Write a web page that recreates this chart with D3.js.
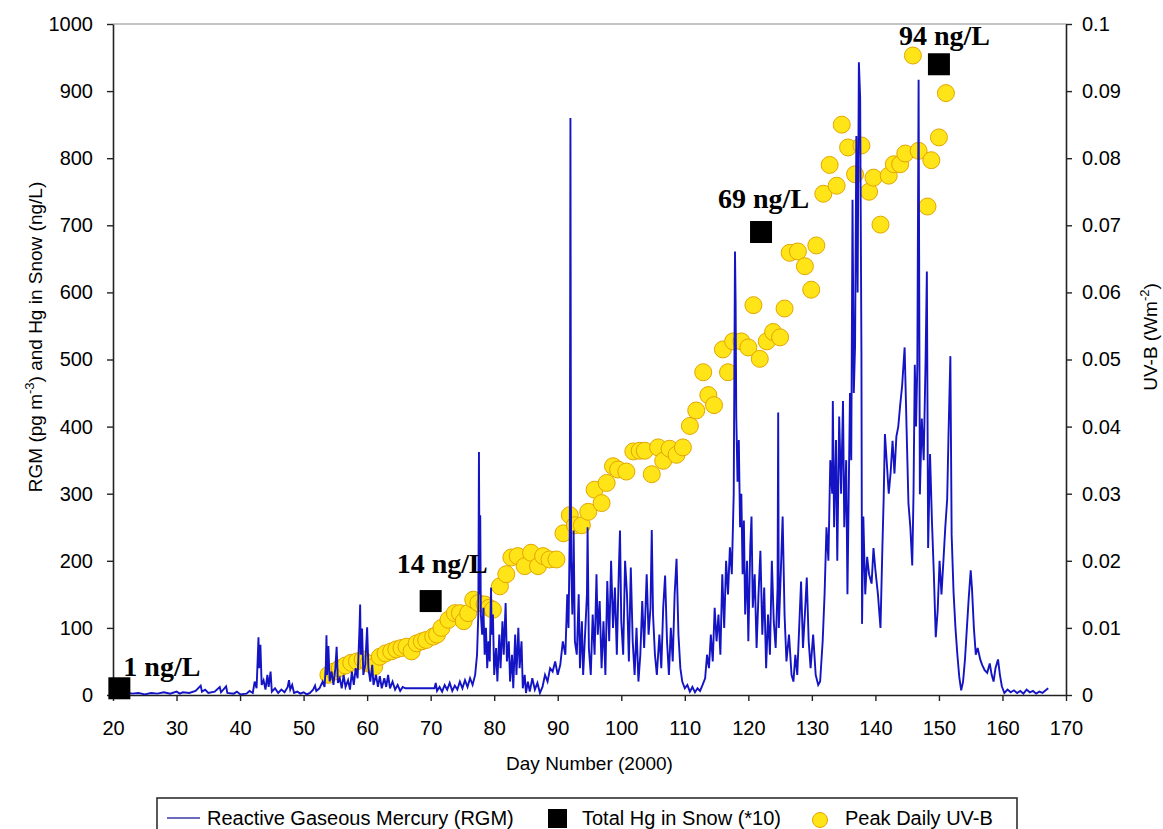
<!DOCTYPE html>
<html>
<head>
<meta charset="utf-8">
<script src="https://cdn.jsdelivr.net/npm/d3@7"></script>
<style>
    body { margin: 0; background: #fff; }
    svg { display: block; }
    text { fill: #000; }
</style>
</head>
<body>
<div class="container"></div>
<script>
// tick values
const dayTicks = [20, 30, 40, 50, 60, 70, 80, 90, 100, 110, 120, 130, 140, 150, 160, 170];
const leftTicks = [0, 100, 200, 300, 400, 500, 600, 700, 800, 900, 1000];
const rightTicks = [0, 0.01, 0.02, 0.03, 0.04, 0.05, 0.06, 0.07, 0.08, 0.09, 0.1];
const rightTickLabels = ['0', '0.01', '0.02', '0.03', '0.04', '0.05', '0.06', '0.07', '0.08', '0.09', '0.1'];

// Reactive Gaseous Mercury, [day, pg m-3]
const rgmData = [
    [20, 3], [21, 2], [22, 4], [23, 2], [24, 3], [25, 1], [26, 3], [27, 2], [28, 4], [29, 2], [30, 5], [30.5, 2],
    [31, 4], [32, 3], [33, 6], [33.8, 14], [34, 5], [34.5, 8], [35, 3], [36, 5], [36.8, 12], [37, 4], [37.8, 13],
    [38, 3], [39, 2], [39.5, 5], [40, 1], [41, 2], [41.5, 6], [42, 3],
    [42.3, 20], [42.6, 10], [42.8, 60], [42.9, 86], [43.0, 40], [43.2, 75], [43.4, 15], [43.7, 22], [44, 8],
    [44.3, 30], [44.5, 12], [44.8, 35], [45, 5], [45.5, 10], [46, 3], [46.5, 8], [47, 4], [47.5, 12], [47.7, 22],
    [47.9, 8], [48.2, 15], [48.5, 3], [49, 5], [49.5, 2], [50, 4], [50.5, 1], [51, 3], [51.5, 8], [51.8, 14],
    [52, 6], [52.5, 10], [53, 20], [53.3, 12],
    [53.5, 45], [53.6, 89], [53.7, 30], [53.9, 73], [54.1, 20], [54.4, 35], [54.7, 15], [55, 40], [55.2, 72],
    [55.4, 18], [55.7, 25], [56, 10], [56.3, 30], [56.6, 12], [57, 22], [57.3, 8], [57.6, 35], [57.9, 15],
    [58.2, 40], [58.5, 25], [58.8, 100], [58.9, 135], [59.0, 60], [59.2, 99], [59.4, 30], [59.7, 45], [60, 101],
    [60.2, 40], [60.5, 20], [60.8, 45], [61, 15], [61.4, 30], [61.7, 12], [62, 28], [62.3, 10], [62.7, 25],
    [63, 12], [63.3, 30], [63.6, 10], [64, 20], [64.4, 8], [64.8, 15], [65.2, 6],
    [65.6, 12], [66, 10], [70.6, 10], [70.8, 18], [71, 6], [71.4, 12], [71.8, 5], [72.2, 15], [72.6, 8], [73, 18],
    [73.4, 6], [73.8, 14], [74.2, 8], [74.6, 20], [75, 10], [75.4, 22], [75.8, 12], [76.2, 25], [76.6, 15],
    [77, 30], [77.3, 60],
    [77.5, 120], [77.6, 362], [77.7, 150], [77.8, 268], [77.9, 120], [78.1, 90], [78.3, 130], [78.5, 60],
    [78.7, 100], [78.9, 40], [79.1, 80], [79.3, 50], [79.5, 160], [79.6, 90], [79.8, 120], [80, 30], [80.3, 70],
    [80.5, 20], [80.8, 90], [81, 40], [81.3, 110], [81.5, 60], [81.8, 137], [82, 50], [82.3, 80], [82.5, 20],
    [82.8, 60], [83, 10], [83.3, 90], [83.5, 30], [83.8, 100], [84, 40], [84.3, 80], [84.5, 10], [84.8, 30],
    [85, 3], [85.3, 20], [85.6, 5], [86, 25], [86.4, 8], [86.8, 18], [87.2, 3], [87.6, 12], [88, 30], [88.4, 20],
    [88.8, 40], [89.2, 35], [89.6, 50], [90, 30], [90.4, 45], [90.8, 80], [91.2, 60], [91.5, 150], [91.7, 100],
    [91.9, 250], [92, 860], [92.1, 200], [92.3, 120], [92.5, 245], [92.7, 80],
    [93, 60], [93.3, 150], [93.5, 40], [93.8, 110], [94, 30], [94.3, 90], [94.6, 150], [94.7, 250], [94.9, 70],
    [95.2, 30], [95.5, 120], [95.8, 60], [96.1, 180], [96.3, 90], [96.6, 140], [96.9, 40], [97.2, 110], [97.5, 30],
    [97.8, 170], [98.1, 80], [98.4, 200], [98.7, 100], [99, 160], [99.3, 60], [99.6, 180], [99.8, 245], [100, 110],
    [100.3, 60], [100.6, 200], [100.9, 150], [101.2, 50], [101.5, 190], [101.8, 80], [102.1, 30], [102.4, 100],
    [102.7, 20],
    [103, 60], [103.3, 140], [103.6, 70], [104, 180], [104.3, 90], [104.6, 130], [104.8, 246], [105, 120],
    [105.3, 60], [105.6, 30], [106, 90], [106.3, 40], [106.6, 130], [106.9, 178], [107.2, 80], [107.5, 30],
    [107.8, 100], [108.1, 50], [108.4, 150], [108.7, 203], [109, 90], [109.3, 40], [109.6, 20], [110, 10],
    [110.4, 15], [110.8, 5], [111.2, 12], [111.6, 4], [112, 10], [112.4, 6], [112.8, 15], [113.2, 25],
    [113.5, 60], [113.8, 40], [114.1, 90], [114.4, 50], [114.7, 130], [115, 80], [115.3, 120], [115.6, 60],
    [115.9, 180], [116.2, 100], [116.5, 200], [116.8, 150], [117.1, 220], [117.4, 180], [117.7, 300], [117.9, 661],
    [118, 584], [118.1, 415], [118.3, 318], [118.5, 380], [118.7, 250], [118.9, 300], [119.1, 180], [119.3, 260],
    [119.5, 120], [119.8, 200], [120, 80], [120.3, 220], [120.5, 266], [120.7, 130], [121, 180], [121.3, 70],
    [121.6, 150], [121.9, 215], [122.2, 90], [122.5, 160], [122.8, 40], [123.1, 120], [123.4, 60], [123.7, 200],
    [124, 110], [124.3, 70], [124.6, 160], [124.7, 421], [124.8, 100], [125.1, 180], [125.4, 266], [125.7, 120],
    [126, 50], [126.4, 90], [126.8, 30], [127.1, 20], [127.4, 60], [127.7, 30], [128, 100], [128.3, 169],
    [128.6, 70], [128.9, 120], [129.2, 175], [129.5, 80], [129.8, 40], [130.2, 90], [130.6, 30], [131, 15],
    [131.3, 20], [131.7, 80], [132, 150], [132.3, 250], [132.6, 200], [132.9, 350], [133.2, 300], [133.3, 438],
    [133.5, 250], [133.8, 380], [134, 200], [134.3, 415], [134.6, 300], [134.9, 438], [135.1, 250], [135.4, 350],
    [135.6, 150], [135.8, 300], [136, 450], [136.2, 350], [136.4, 738], [136.6, 450], [136.8, 520], [137, 833],
    [137.2, 600], [137.4, 943], [137.6, 890], [137.8, 512], [137.9, 106], [138.1, 266], [138.4, 150], [138.7, 206],
    [139, 180], [139.4, 166], [139.7, 219], [140, 186], [140.4, 150], [140.8, 100], [141.1, 220], [141.3, 292],
    [141.5, 389], [141.8, 345], [142.1, 300], [142.4, 332], [142.7, 379], [143, 330], [143.3, 385], [143.6, 400],
    [143.9, 432], [144.2, 460], [144.6, 518], [144.9, 400], [145.2, 286], [145.5, 250], [145.8, 193], [146, 300],
    [146.2, 492], [146.4, 400], [146.6, 492], [146.8, 917], [146.9, 600], [147, 299], [147.3, 412], [147.6, 350],
    [147.9, 500], [148.1, 631], [148.3, 219], [148.6, 359], [148.9, 259], [149.2, 180], [149.5, 86], [149.8, 126],
    [150.1, 200], [150.4, 150], [150.7, 199], [151, 250], [151.3, 292], [151.5, 385], [151.8, 505], [152, 239],
    [152.3, 153], [152.6, 100], [152.9, 60], [153.2, 27], [153.5, 7], [153.8, 20], [154.1, 53], [154.4, 100],
    [154.7, 146], [155, 186], [155.2, 159], [155.5, 100], [155.8, 60], [156.1, 70], [156.5, 53], [156.8, 45],
    [157.2, 37], [157.6, 33], [158, 47], [158.3, 30], [158.6, 20], [158.9, 40], [159.3, 53], [159.6, 30],
    [159.9, 13], [160.3, 3], [160.8, 8], [161.3, 4], [161.8, 7], [162.3, 3], [162.8, 6], [163.3, 2], [163.8, 8],
    [164.3, 4], [164.8, 6], [165.3, 2], [165.8, 5], [166.3, 3], [166.8, 7], [167.2, 10]
];

// Peak daily UV-B, [day, W m-2]
const uvData = [
    [53.9, 0.0030], [54.8, 0.0035], [55.7, 0.0040], [56.6, 0.0044], [57.5, 0.0048], [58.4, 0.0050],
    [59.3, 0.0053], [60.2, 0.0047], [61.1, 0.0042], [62.0, 0.0057], [62.9, 0.0062], [63.8, 0.0065],
    [64.6, 0.0068], [65.4, 0.0070], [66.2, 0.0072], [67.0, 0.0065], [67.8, 0.0077], [68.6, 0.0080],
    [69.3, 0.0082], [70.4, 0.0087], [71.0, 0.0090], [71.7, 0.0100], [72.8, 0.0112], [73.8, 0.0122],
    [74.6, 0.0122], [75.2, 0.0110], [75.9, 0.0122], [76.7, 0.0142], [77.5, 0.0137], [78.5, 0.0135],
    [79.2, 0.0130], [79.8, 0.0127], [80.9, 0.0162], [81.9, 0.0180], [82.7, 0.0205], [83.7, 0.0207],
    [84.8, 0.0192], [85.8, 0.0212], [86.9, 0.0192], [87.7, 0.0207], [88.7, 0.0202], [89.8, 0.0202],
    [90.9, 0.0241], [91.9, 0.0268], [92.7, 0.0253], [93.8, 0.0253], [94.8, 0.0273], [95.8, 0.0306],
    [96.9, 0.0286], [97.7, 0.0316], [98.7, 0.0341], [99.5, 0.0336], [100.8, 0.0333], [101.9, 0.0363],
    [102.9, 0.0364], [103.7, 0.0364], [104.8, 0.0329], [105.8, 0.0369], [106.6, 0.0349], [107.6, 0.0367],
    [108.7, 0.0358], [109.7, 0.0369], [110.8, 0.0401], [111.8, 0.0424], [112.9, 0.0481], [113.7, 0.0447],
    [114.6, 0.0432], [116.0, 0.0515], [116.8, 0.0481], [117.6, 0.0527], [118.9, 0.0527], [120.0, 0.0518],
    [120.8, 0.0581], [121.8, 0.0501], [122.9, 0.0527], [123.9, 0.0541], [125.0, 0.0533], [125.7, 0.0576],
    [126.5, 0.0659], [127.8, 0.0661], [128.9, 0.0639], [129.9, 0.0604], [130.7, 0.0670], [131.8, 0.0747],
    [132.8, 0.0790], [133.9, 0.0759], [134.7, 0.0850], [135.7, 0.0816], [136.8, 0.0776], [137.8, 0.0819],
    [139.0, 0.0750], [139.7, 0.0771], [140.8, 0.0701], [142.1, 0.0774], [142.9, 0.0791], [143.9, 0.0791],
    [144.7, 0.0807], [145.9, 0.0953], [146.8, 0.0811], [148.2, 0.0728], [148.8, 0.0797], [150.0, 0.0831],
    [151.1, 0.0897]
];

// Total Hg in snow (*10)
const snowDays = [21, 70, 122, 150];
const snowHg = [10, 140, 690, 940];
const snowLabels = ['1 ng/L', '14 ng/L', '69 ng/L', '94 ng/L'];
// label offset from the square, px
const snowLabelOffset = [[4, -12], [-34, -28], [-43, -24], [-40, -19]];

const w = 1163;
const h = 829;
const sans = '"Liberation Sans", Arial, sans-serif';
const serif = '"Liberation Serif", "Times New Roman", serif';

const x = d3.scaleLinear([20, 170], [113, 1066]);
const yL = d3.scaleLinear([0, 1000], [695, 24]);
const yR = d3.scaleLinear([0, 0.1], [695, 24]);

const svg = d3.select('.container')
    .append('svg')
    .attr('width', w)
    .attr('height', h)
    .attr('viewBox', [0, 0, w, h])
    .style('font-family', sans);

// top frame line
svg.append('line')
    .attr('x1', x(20)).attr('x2', x(170))
    .attr('y1', yL(1000)).attr('y2', yL(1000))
    .attr('stroke', '#8a8a8a')
    .attr('stroke-width', 1.2);

// axes
const styleAxis = g => {
    g.attr('font-family', null);
    g.select('.domain').attr('stroke', '#222').attr('stroke-width', 1.6);
    g.selectAll('.tick line').attr('stroke', '#222').attr('stroke-width', 1.4);
    g.selectAll('.tick text').attr('font-size', 20).attr('fill', '#111');
};

svg.append('g')
    .attr('transform', `translate(0, ${yL(0)})`)
    .call(d3.axisBottom(x).tickValues(dayTicks).tickSize(6).tickSizeOuter(0).tickPadding(20)
        .tickFormat(d3.format('d')))
    .call(styleAxis);

svg.append('g')
    .attr('transform', `translate(${x(20)}, 0)`)
    .call(d3.axisLeft(yL).tickValues(leftTicks).tickSize(6).tickSizeOuter(0).tickPadding(14)
        .tickFormat(d3.format('d')))
    .call(styleAxis);

svg.append('g')
    .attr('transform', `translate(${x(170)}, 0)`)
    .call(d3.axisRight(yR).tickValues(rightTicks).tickSize(6).tickSizeOuter(0).tickPadding(10)
        .tickFormat((d, i) => rightTickLabels[i]))
    .call(styleAxis);

// axis titles
svg.append('text')
    .attr('x', (x(20) + x(170)) / 2)
    .attr('y', 770)
    .attr('text-anchor', 'middle')
    .attr('font-size', 19)
    .text('Day Number (2000)');

const leftTitle = svg.append('text')
    .attr('transform', 'translate(42, 337) rotate(-90)')
    .attr('text-anchor', 'middle')
    .attr('font-size', 19);
leftTitle.append('tspan').text('RGM (pg m');
leftTitle.append('tspan').attr('font-size', 13).attr('dy', -8).text('-3');
leftTitle.append('tspan').attr('dy', 8).text(') and Hg in Snow (ng/L)');

const rightTitle = svg.append('text')
    .attr('transform', 'translate(1157, 337) rotate(-90)')
    .attr('text-anchor', 'middle')
    .attr('font-size', 19);
rightTitle.append('tspan').text('UV-B (Wm');
rightTitle.append('tspan').attr('font-size', 13).attr('dy', -8).text('-2');
rightTitle.append('tspan').attr('dy', 8).text(')');

// UV-B points
svg.append('g')
    .selectAll('circle')
    .data(uvData)
    .join('circle')
    .attr('cx', d => x(d[0]))
    .attr('cy', d => yR(d[1]))
    .attr('r', 8.5)
    .attr('fill', '#ffe417')
    .attr('stroke', '#e3a500')
    .attr('stroke-width', 1);

// RGM line
const line = d3.line()
    .x(d => x(d[0]))
    .y(d => yL(d[1]));

svg.append('path')
    .datum(rgmData)
    .attr('fill', 'none')
    .attr('stroke', '#1414c4')
    .attr('stroke-width', 1.9)
    .attr('stroke-linejoin', 'miter')
    .attr('d', line);

// snow squares + labels
const snow = snowDays.map((d, i) => ({ day: d, hg: snowHg[i], label: snowLabels[i], off: snowLabelOffset[i] }));

svg.append('g')
    .selectAll('rect')
    .data(snow)
    .join('rect')
    .attr('x', d => x(d.day) - 11)
    .attr('y', d => yL(d.hg) - 11)
    .attr('width', 22)
    .attr('height', 22)
    .attr('fill', '#000');

svg.append('g')
    .selectAll('text')
    .data(snow)
    .join('text')
    .attr('x', d => x(d.day) + d.off[0])
    .attr('y', d => yL(d.hg) + d.off[1])
    .style('font-family', serif)
    .style('font-weight', 'bold')
    .style('font-size', '28px')
    .text(d => d.label);

// legend
const legend = svg.append('g');
legend.append('rect')
    .attr('x', 157).attr('y', 798)
    .attr('width', 860).attr('height', 44)
    .attr('fill', '#fff')
    .attr('stroke', '#222')
    .attr('stroke-width', 1.5);

const ly = 818;
legend.append('line')
    .attr('x1', 167).attr('x2', 200)
    .attr('y1', ly).attr('y2', ly)
    .attr('stroke', '#3a3aa8')
    .attr('stroke-width', 1.6);
legend.append('text')
    .attr('x', 207).attr('y', ly + 7)
    .attr('font-size', 20)
    .text('Reactive Gaseous Mercury (RGM)');

legend.append('rect')
    .attr('x', 548).attr('y', ly - 9)
    .attr('width', 19).attr('height', 19)
    .attr('fill', '#000');
legend.append('text')
    .attr('x', 582).attr('y', ly + 7)
    .attr('font-size', 20)
    .text('Total Hg in Snow (*10)');

legend.append('circle')
    .attr('cx', 820).attr('cy', ly + 2)
    .attr('r', 7.5)
    .attr('fill', '#ffe417')
    .attr('stroke', '#e3a500');
legend.append('text')
    .attr('x', 845).attr('y', ly + 7)
    .attr('font-size', 20)
    .text('Peak Daily UV-B');
</script>
</body>
</html>
